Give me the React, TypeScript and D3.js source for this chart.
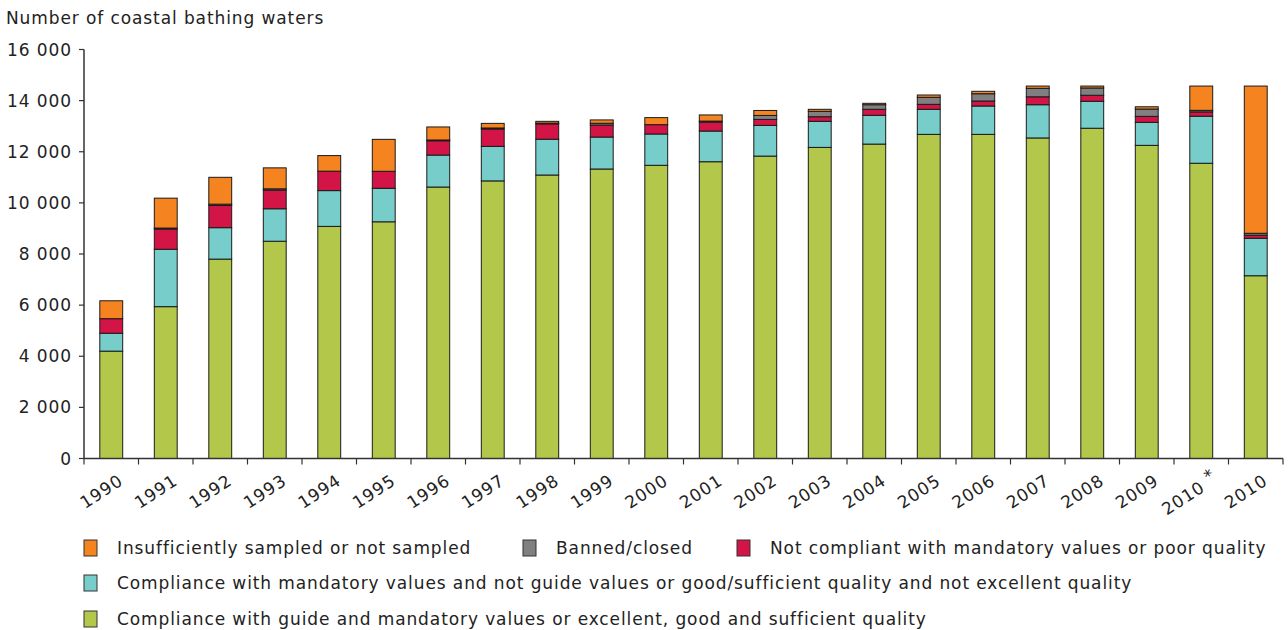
import React from "react";
import * as d3 from "d3";

const years = ["1990","1991","1992","1993","1994","1995","1996","1997","1998","1999","2000","2001","2002","2003","2004","2005","2006","2007","2008","2009","2010 *","2010"];
const excellent = [4200,5940,7800,8500,9080,9260,10620,10860,11090,11325,11470,11610,11830,12170,12300,12680,12680,12540,12920,12250,11550,7150];
const mandatory = [700,2245,1230,1270,1400,1310,1250,1350,1400,1250,1225,1200,1200,1020,1125,980,1110,1300,1055,900,1840,1465];
const notCompliant = [570,790,870,730,760,665,560,680,600,470,365,350,235,180,235,195,195,310,235,235,170,120];
const banned = [0,40,50,50,0,0,30,40,30,70,0,40,155,210,180,275,285,330,285,285,60,75];
const insufficient = [700,1170,1050,820,610,1250,510,180,70,130,275,240,195,80,55,90,95,90,75,90,950,5760];
const yTicks = [0,2000,4000,6000,8000,10000,12000,14000,16000];

const seriesKeys = ["excellent","mandatory","notCompliant","banned","insufficient"];
const colors: Record<string,string> = {
  excellent: "#B3C84A",
  mandatory: "#76CDC9",
  notCompliant: "#D31446",
  banned: "#808083",
  insufficient: "#F58420",
};

const FONT = "'DejaVu Sans', Verdana, sans-serif";
const FS = 17;
const LS = 0.9;

export default function App() {
  const W = 1288, H = 630;
  const x = d3.scaleBand<string>().domain(years).range([84, 1283]).paddingInner(0.58).paddingOuter(0.29);
  const xBand = d3.scaleBand<string>().domain(years).range([84, 1283]);
  const y = d3.scaleLinear().domain([0, 16000]).range([458.5, 49.5]);

  const table = years.map((yr, i) => ({
    year: yr,
    excellent: excellent[i],
    mandatory: mandatory[i],
    notCompliant: notCompliant[i],
    banned: banned[i],
    insufficient: insufficient[i],
  }));
  const stacked = d3.stack<any>().keys(seriesKeys)(table);

  const fmt = (v: number) => (v >= 1000 ? `${Math.floor(v / 1000)} ${String(v % 1000).padStart(3, "0")}` : String(v));

  const legendItems = [
    { key: "insufficient", label: "Insufficiently sampled or not sampled", x: 84, y: 548 },
    { key: "banned", label: "Banned/closed", x: 523, y: 548 },
    { key: "notCompliant", label: "Not compliant with mandatory values or poor quality", x: 737, y: 548 },
    { key: "mandatory", label: "Compliance with mandatory values and not guide values or good/sufficient quality and not excellent quality", x: 84, y: 583 },
    { key: "excellent", label: "Compliance with guide and mandatory values or excellent, good and sufficient quality", x: 84, y: 619 },
  ];

  return (
    <svg width={W} height={H} style={{ position: "absolute", left: 0, top: 0, background: "#fff" }}
      fontFamily={FONT} fontSize={FS} letterSpacing={LS}>
      <text x={6} y={24} fill="#222">Number of coastal bathing waters</text>

      {/* bars */}
      {stacked.map((s) => (
        <g key={s.key}>
          {s.map((d, i) => {
            const h = y(d[0]) - y(d[1]);
            if (h <= 0) return null;
            return (
              <rect key={i} x={x(years[i])} width={x.bandwidth()} y={y(d[1])} height={h}
                fill={colors[s.key]} stroke="#1a1a1a" strokeWidth={1} />
            );
          })}
        </g>
      ))}

      {/* y axis */}
      <line x1={84} x2={84} y1={y(16000)} y2={y(0)} stroke="#333" strokeWidth={1.5} />
      {yTicks.map((t) => (
        <g key={t}>
          <line x1={79} x2={84} y1={y(t)} y2={y(t)} stroke="#333" strokeWidth={1.2} />
          <text x={72} y={y(t)} dy="0.36em" textAnchor="end" fill="#222">{fmt(t)}</text>
        </g>
      ))}

      {/* x axis */}
      <line x1={84} x2={1283} y1={y(0)} y2={y(0)} stroke="#333" strokeWidth={1.5} />
      {years.map((yr) => (
        <line key={"t" + yr} x1={xBand(yr)!} x2={xBand(yr)!} y1={y(0)} y2={y(0) + 6} stroke="#333" strokeWidth={1.2} />
      ))}
      <line x1={1283} x2={1283} y1={y(0)} y2={y(0) + 6} stroke="#333" strokeWidth={1.2} />
      {years.map((yr) => {
        const cx = xBand(yr)! + xBand.bandwidth() / 2;
        const star = yr.endsWith("*");
        return (
          <text key={"l" + yr} transform={`translate(${cx + (star ? 11 : 6)},${star ? 471 : 473}) rotate(-33)`} textAnchor="end"
            dominantBaseline="hanging" fill="#222">
            {star ? (<>{"2010 "}<tspan dy={-5}>*</tspan></>) : yr}
          </text>
        );
      })}

      {/* legend */}
      {legendItems.map((it) => (
        <g key={it.key}>
          <rect x={it.x} y={it.y - 8} width={13} height={16} fill={colors[it.key]} stroke="#333" strokeWidth={1} />
          <text x={it.x + 33} y={it.y} dy="0.36em" fill="#222">{it.label}</text>
        </g>
      ))}
    </svg>
  );
}
